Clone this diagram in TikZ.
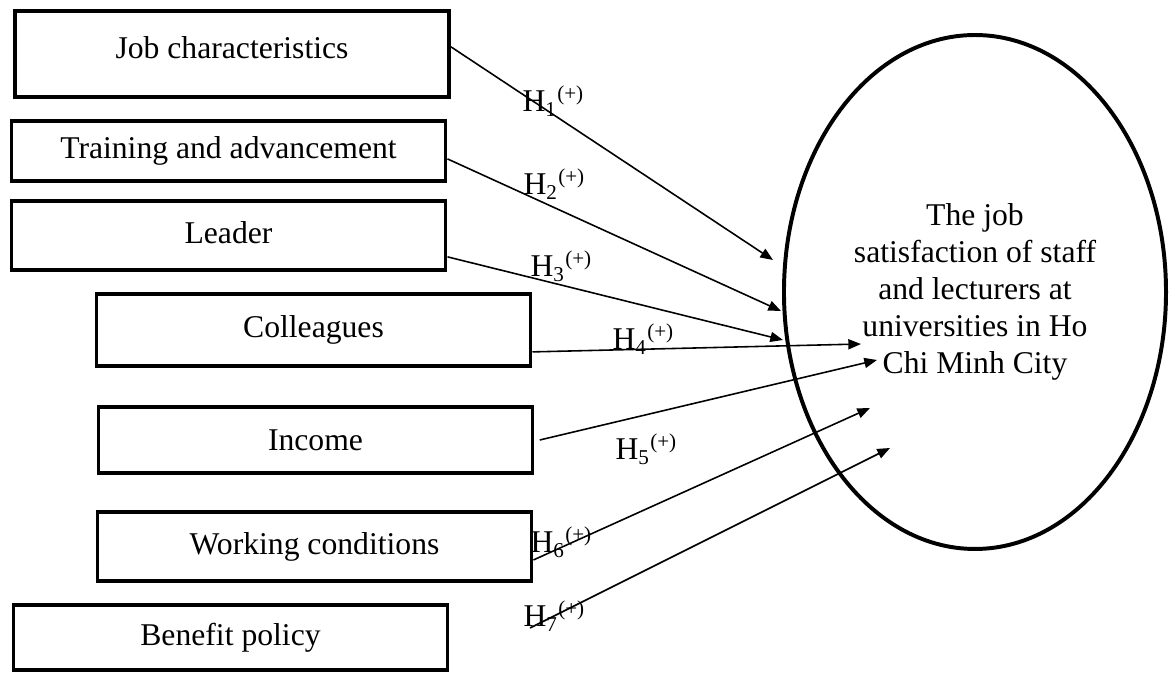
\documentclass[tikz,border=0pt]{standalone}
\usepackage{fontspec}
\setmainfont{Liberation Serif}
\usetikzlibrary{arrows.meta,shapes.geometric}

\begin{document}
\begin{tikzpicture}[x=0.01332cm, y=-0.01332cm, >={Triangle[length=4.8pt,width=3.8pt]},
    font=\fontsize{12pt}{14pt}\selectfont,
    factor/.style={draw, line width=1.5pt, minimum width=164.5pt, inner sep=0pt},
    hyp/.style={->, line width=0.6pt},
    hlabel/.style={anchor=base west, inner sep=0pt}]
    \useasboundingbox (0,0) rectangle (1171,673);

    % Factor boxes
    \node[factor, minimum height=32.6pt] (job) at (232,54) {\raisebox{5pt}{Job characteristics}};
    \node[factor, minimum height=22.7pt] (train) at (228.5,151) {Training and advancement};
    \node[factor, minimum height=26.2pt] (leader) at (228.5,235.5) {\raisebox{2.5pt}{Leader}};
    \node[factor, minimum height=27.3pt] (coll) at (313.5,330) {Colleagues};
    \node[factor, minimum height=25pt] (income) at (315.5,440) {Income};
    \node[factor, minimum height=26.2pt] (work) at (314.5,546.5) {Working conditions};
    \node[factor, minimum height=24.6pt] (benefit) at (230.5,637.5) {Benefit policy};

    % Job satisfaction (dependent variable)
    \node[draw, ellipse, line width=1.5pt, minimum width=144.8pt, minimum height=194.8pt,
        inner sep=0pt, align=center] (sat) at (975,292)
        {The job\\satisfaction of staff\\and lecturers at\\universities in Ho\\Chi Minh City};

    % Arrow tips (inside the ellipse)
    \coordinate (t1) at (773,260);
    \coordinate (t2) at (781,311);
    \coordinate (t3) at (783,340);
    \coordinate (t4) at (861,344);
    \coordinate (t5) at (877,360);
    \coordinate (t6) at (870,408);
    \coordinate (t7) at (890,448);
    % loose start of H7
    \coordinate (s7) at (530,628);

    % Hypotheses
    \draw[hyp] ([yshift=2.7pt]job.east) -- (t1);
    \draw[hyp] ([yshift=-3pt]train.east) -- (t2);
    \draw[hyp] ([yshift=-8.1pt]leader.east) -- (t3);
    \draw[hyp] ([yshift=-8.3pt]coll.east) -- (t4);
    \draw[hyp] ([xshift=2pt]income.east) -- (t5);
    \draw[hyp] ([yshift=-5.1pt]work.east) -- (t6);
    \draw[hyp] (s7) -- (t7);

    % Hypothesis labels
    \node[hlabel] (h1) at (522,112) {H\textsubscript{1}\textsuperscript{(+)}};
    \node[hlabel] (h2) at (523,195) {H\textsubscript{2}\textsuperscript{(+)}};
    \node[hlabel] (h3) at (530,277) {H\textsubscript{3}\textsuperscript{(+)}};
    \node[hlabel] (h4) at (612,350) {H\textsubscript{4}\textsuperscript{(+)}};
    \node[hlabel] (h5) at (615,460) {H\textsubscript{5}\textsuperscript{(+)}};
    \node[hlabel] (h6) at (530,553) {H\textsubscript{6}\textsuperscript{(+)}};
    \node[hlabel] (h7) at (523,627) {H\textsubscript{7}\textsuperscript{(+)}};
\end{tikzpicture}
\end{document}
